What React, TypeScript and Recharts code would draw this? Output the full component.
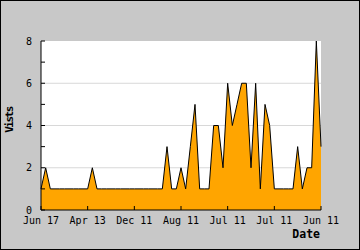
import { AreaChart, Area, XAxis, YAxis, CartesianGrid } from "recharts";

// visits per point (61 points, labels every 10th)
const visits = [
  1, 2, 1, 1, 1, 1, 1, 1, 1, 1,
  1, 2, 1, 1, 1, 1, 1, 1, 1, 1,
  1, 1, 1, 1, 1, 1, 1, 3, 1, 1,
  2, 1, 3, 5, 1, 1, 1, 4, 4, 2,
  6, 4, 5, 6, 6, 2, 6, 1, 5, 4,
  1, 1, 1, 1, 1, 3, 1, 2, 2, 8,
  3,
];

const tickIndex = [0, 10, 20, 30, 40, 50, 60];
const tickLabels = ["Jun 17", "Apr 13", "Dec 11", "Aug 11", "Jul 11", "Jul 11", "Jun 11"];
const yTicks = [0, 1, 2, 3, 4, 5, 6, 7, 8];
const gridValues = [2, 4, 6];

const mono = "'DejaVu Sans Mono', monospace";

export default function App() {
  const data = visits.map((v, i) => ({ i, v }));

  return (
    <div
      style={{
        position: "fixed",
        left: 0,
        top: 0,
        width: 360,
        height: 250,
        background: "#c8c8c8",
      }}
    >
      <AreaChart
        width={360}
        height={250}
        data={data}
        margin={{ top: 41, right: 39, bottom: 10, left: 0 }}
      >
        <CartesianGrid
          vertical={false}
          horizontalValues={gridValues}
          stroke="#d8d8d8"
          fill="#ffffff"
        />
        <XAxis
          dataKey="i"
          type="number"
          domain={[0, 60]}
          ticks={tickIndex}
          interval={0}
          height={30}
          tickSize={-4}
          tickMargin={11}
          tickFormatter={(v) => tickLabels[tickIndex.indexOf(v)] ?? ""}
          axisLine={{ stroke: "#000" }}
          tickLine={{ stroke: "#000" }}
          tick={{ fill: "#000", fontSize: 10, fontFamily: mono }}
        />
        <YAxis
          type="number"
          domain={[0, 8]}
          ticks={yTicks}
          interval={0}
          width={41}
          tickSize={-4}
          tickMargin={13}
          tickFormatter={(v) => (v % 2 === 0 ? String(v) : "")}
          axisLine={{ stroke: "#000" }}
          tickLine={{ stroke: "#000" }}
          tick={{ fill: "#000", fontSize: 10, fontFamily: mono }}
        />
        <Area
          type="linear"
          dataKey="v"
          stroke="#000"
          strokeWidth={1}
          fill="#ffa500"
          fillOpacity={1}
          isAnimationActive={false}
        />
      </AreaChart>

      <div
        style={{
          position: "absolute",
          left: 9,
          top: 120,
          transform: "translate(-50%, -50%) rotate(-90deg)",
          fontFamily: mono,
          fontWeight: "bold",
          fontSize: 11,
          letterSpacing: -1.5,
          whiteSpace: "nowrap",
          lineHeight: 1,
        }}
      >
        Vists
      </div>
      <div
        style={{
          position: "absolute",
          right: 40,
          top: 229,
          fontFamily: mono,
          fontWeight: "bold",
          fontSize: 11.5,
          whiteSpace: "nowrap",
          lineHeight: 1,
        }}
      >
        Date
      </div>
      <div
        style={{
          position: "absolute",
          inset: 0,
          border: "1px solid #000",
          pointerEvents: "none",
        }}
      />
    </div>
  );
}
